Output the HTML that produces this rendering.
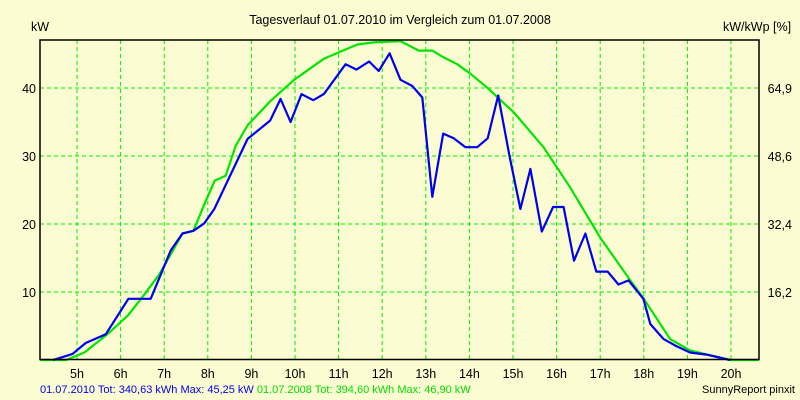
<!DOCTYPE html>
<html><head><meta charset="utf-8"><style>
html,body{margin:0;padding:0;background:#fcfcd2;}
svg{display:block;font-family:"Liberation Sans",sans-serif;}
</style></head><body>
<svg id="chart" width="800" height="400" viewBox="0 0 800 400">
<rect x="0" y="0" width="800" height="400" fill="#fcfcd2"/>
<text x="400" y="24" text-anchor="middle" font-size="12.5" fill="#000">Tagesverlauf 01.07.2010 im Vergleich zum 01.07.2008</text>
<text x="31" y="31" font-size="12.5" fill="#000">kW</text>
<text x="723" y="31" font-size="12.5" fill="#000">kW/kWp [%]</text>
<g id="grid"></g>
<g id="ticks"></g>
<g id="series"></g>
<rect x="40" y="40" width="719" height="319.5" fill="none" stroke="#000" stroke-width="1.5"/>
<text x="40" y="393" font-size="11"><tspan fill="#0000ee">01.07.2010 Tot: 340,63 kWh Max: 45,25 kW</tspan><tspan fill="#00dd00"> 01.07.2008 Tot: 394,60 kWh Max: 46,90 kW</tspan></text>
<text x="795" y="393" font-size="11" text-anchor="end" fill="#000">SunnyReport pinxit</text>
</svg>
<script>
const hourTicks = [5,6,7,8,9,10,11,12,13,14,15,16,17,18,19,20];
const kwTicks = [10,20,30,40];
const pctTicks = ["16,2","32,4","48,6","64,9"];
const times2010 = [4.45,4.9,5.2,5.66,6.18,6.69,7.15,7.42,7.67,7.92,8.15,8.91,9.43,9.67,9.9,10.15,10.42,10.66,11.16,11.41,11.7,11.92,12.17,12.42,12.69,12.92,13.15,13.4,13.64,13.91,14.18,14.42,14.66,14.92,15.17,15.4,15.66,15.92,16.16,16.4,16.66,16.91,17.17,17.42,17.65,17.99,18.15,18.45,18.76,19.06,19.44,19.98];
const kw2010 = [0,0.9,2.5,3.8,9.0,9.0,16.1,18.6,19.0,20.1,22.2,32.5,35.2,38.4,35.0,39.1,38.2,39.1,43.5,42.7,43.9,42.5,45.1,41.2,40.3,38.6,24.0,33.3,32.6,31.3,31.3,32.6,38.9,30.0,22.2,28.1,18.9,22.5,22.5,14.6,18.6,13.0,13.0,11.1,11.7,9.0,5.3,3.1,2.0,1.1,0.8,0];
const times2008 = [4.15,4.75,5.17,5.7,6.16,6.47,6.89,7.42,7.67,7.92,8.16,8.41,8.64,8.91,9.44,9.98,10.66,11.43,11.81,12.42,12.84,13.15,13.41,13.72,14.02,14.4,15.02,15.7,16.31,17.0,17.69,18.0,18.6,19.06,19.98,20.64];
const kw2008 = [0,0,1.1,3.8,6.5,9.0,12.6,18.6,19.0,22.9,26.4,27.1,31.5,34.5,38.1,41.2,44.3,46.4,46.7,46.9,45.5,45.5,44.5,43.5,42.1,40.1,36.4,31.3,25.4,18.0,11.7,9.0,3.1,1.4,0,0];

const NS = "http://www.w3.org/2000/svg";
const L = 40, R = 759, T = 40, B = 360;
function xScale(h){ return 77 + (h - 5) * 43.6; }
function yScale(v){ return B - v * 6.8; }
function mk(tag, attrs, parent){ const e = document.createElementNS(NS, tag); for (const k in attrs) e.setAttribute(k, attrs[k]); parent.appendChild(e); return e; }
const grid = document.getElementById('grid');
const ticks = document.getElementById('ticks');
const series = document.getElementById('series');

hourTicks.forEach(h => {
  const x = xScale(h);
  const ln = mk('line', {x1:x, x2:x, y1:T, y2:B, stroke:'#00ee00', 'stroke-width':1, 'stroke-dasharray':'4,3'}, grid);
  
  
  const t = mk('text', {x:x, y:378, 'text-anchor':'middle', 'font-size':12.5, fill:'#000'}, ticks);
  t.textContent = h + 'h';
  
  
});
kwTicks.forEach((v, i) => {
  const y = yScale(v);
  const ln = mk('line', {x1:L, x2:R, y1:y, y2:y, stroke:'#00ee00', 'stroke-width':1, 'stroke-dasharray':'4,3'}, grid);
  
  
  const t = mk('text', {x:36, y:y + 5, 'text-anchor':'end', 'font-size':12.5, fill:'#000'}, ticks);
  t.textContent = v;
  
  
  const t2 = mk('text', {x:792, y:y + 5, 'text-anchor':'end', 'font-size':12.5, fill:'#000'}, ticks);
  t2.textContent = pctTicks[i];
  
  
});
function pts(ts, vs){ return ts.map((t, i) => xScale(t).toFixed(1) + ',' + Math.max(yScale(vs[i]), T + 1).toFixed(1)).join(' '); }
const g08 = mk('polyline', {points: pts(times2008, kw2008), fill:'none', stroke:'#00e600', 'stroke-width':2.2, 'stroke-linejoin':'round'}, series);


const b10 = mk('polyline', {points: pts(times2010, kw2010), fill:'none', stroke:'#0000ee', 'stroke-width':2.2, 'stroke-linejoin':'round'}, series);


</script>
</body></html>
